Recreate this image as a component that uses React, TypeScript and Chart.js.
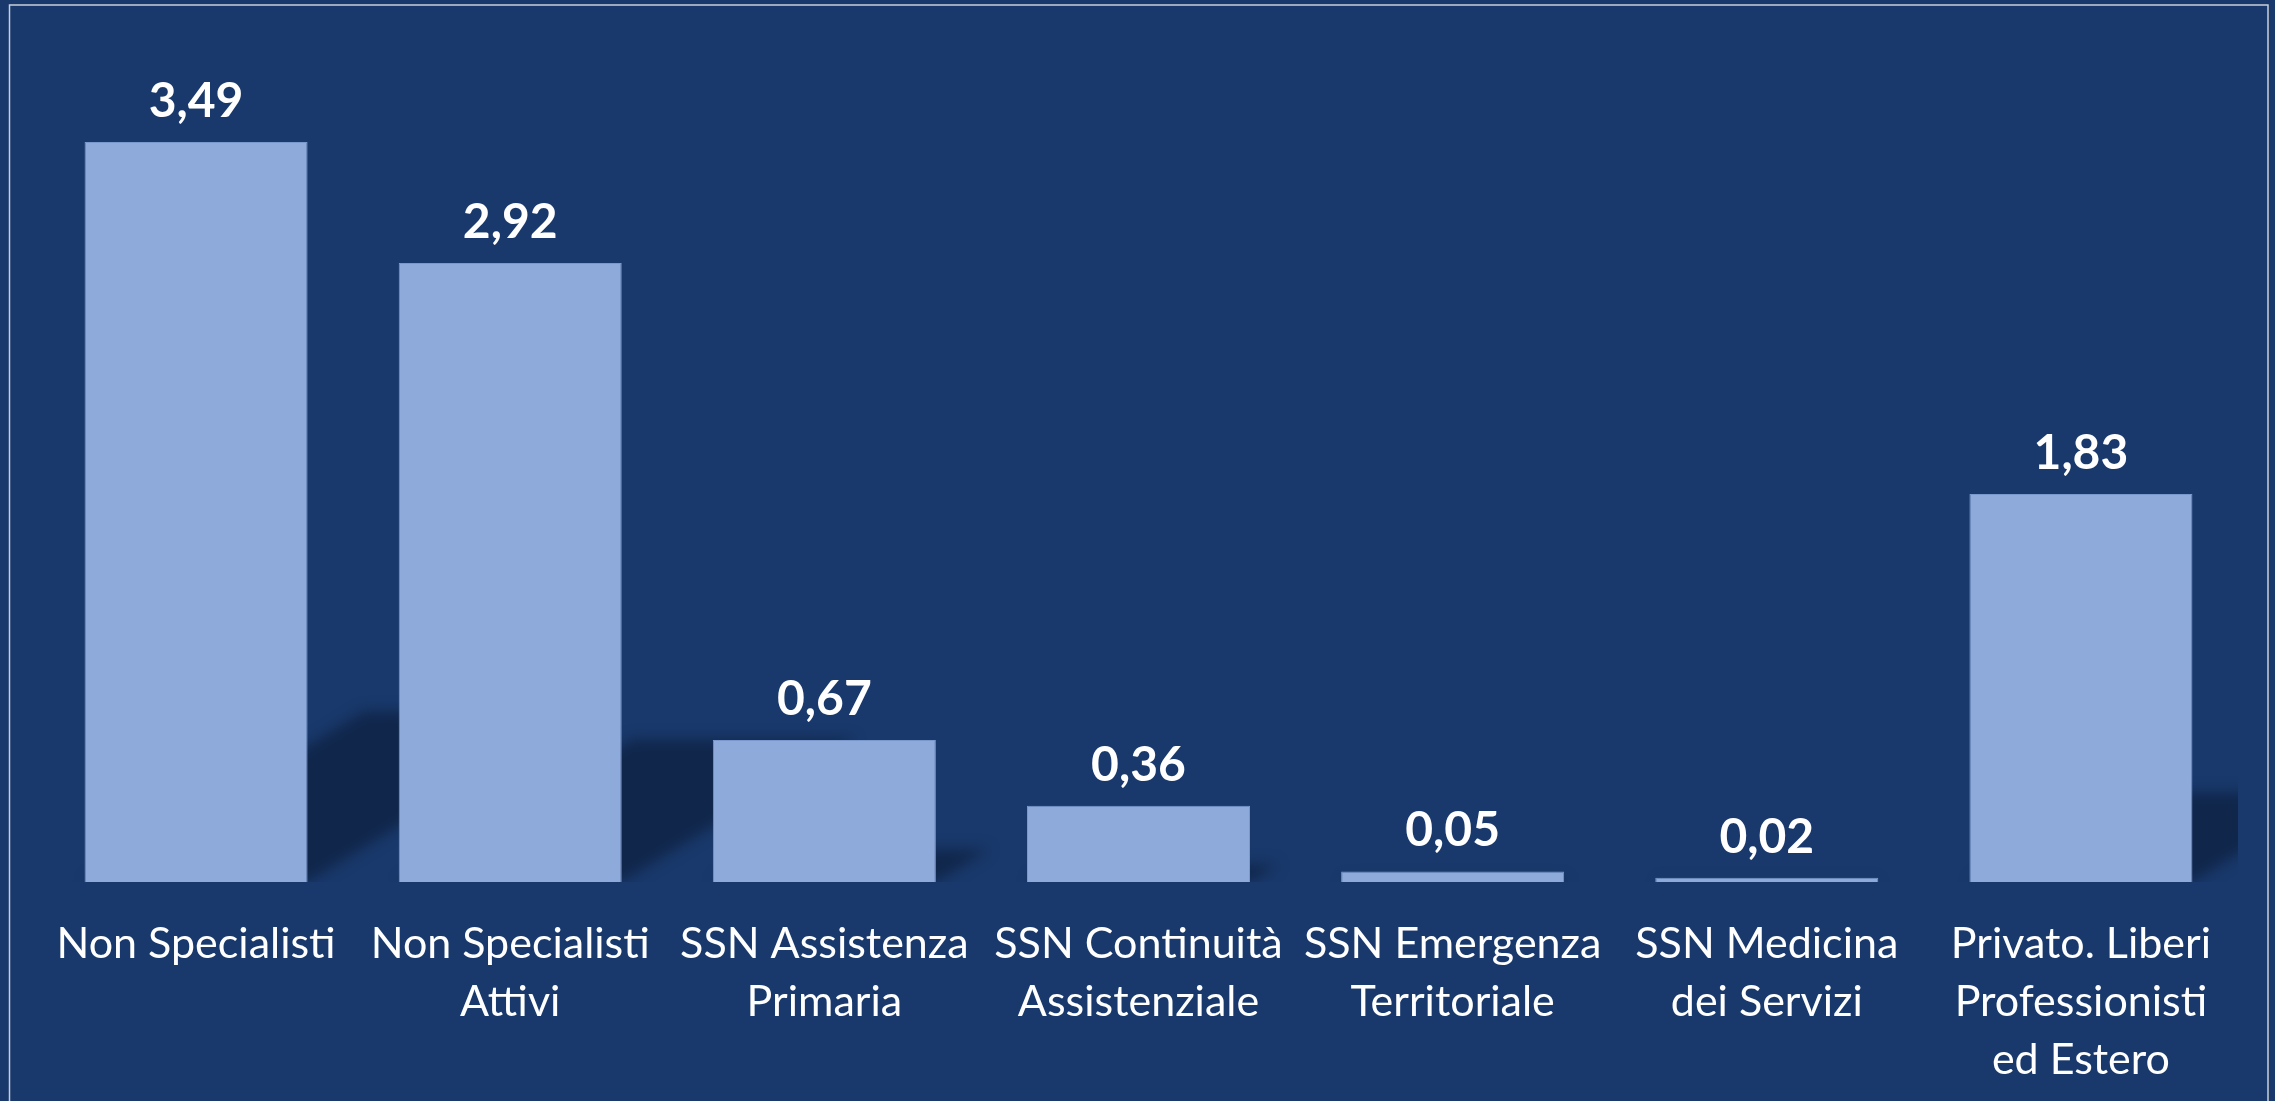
import React, { useEffect, useRef } from "react";
import { Chart, registerables } from "chart.js";

Chart.register(...registerables);

const categories: (string | string[])[] = [
  "Non Specialisti",
  ["Non Specialisti", "Attivi"],
  ["SSN Assistenza", "Primaria"],
  ["SSN Continuità", "Assistenziale"],
  ["SSN Emergenza", "Territoriale"],
  ["SSN Medicina", "dei Servizi"],
  ["Privato. Liberi", "Professionisti", "ed Estero"],
];

const values: number[] = [3.49, 2.92, 0.67, 0.36, 0.05, 0.02, 1.83];

const BG = "#19396c";
const BAR = "#8eaadb";
const BAR_BORDER = "#7a98cc";

const bgPlugin = {
  id: "bgPlugin",
  beforeDraw(chart: any) {
    const { ctx, width, height } = chart;
    ctx.save();
    ctx.fillStyle = BG;
    ctx.fillRect(0, 0, width, height);
    ctx.strokeStyle = "#c9ced8";
    ctx.lineWidth = 1.5;
    ctx.beginPath();
    ctx.moveTo(9.5, height + 2);
    ctx.lineTo(9.5, 5);
    ctx.lineTo(2268, 5);
    ctx.lineTo(2268, height + 2);
    ctx.stroke();
    ctx.restore();
  },
};

const shadowPlugin = {
  id: "shadowPlugin",
  beforeDatasetsDraw(chart: any) {
    const { ctx, chartArea } = chart;
    const meta = chart.getDatasetMeta(0);
    ctx.save();
    ctx.beginPath();
    ctx.rect(chartArea.left, chartArea.top, chartArea.right - chartArea.left, chartArea.bottom - chartArea.top);
    ctx.clip();
    ctx.filter = "blur(7px)";
    ctx.fillStyle = "rgba(12, 28, 55, 0.62)";
    meta.data.forEach((bar: any) => {
      const h = bar.base - bar.y;
      if (h <= 1) return;
      const x0 = bar.x - bar.width / 2;
      const x1 = bar.x + bar.width / 2;
      const dy = 0.231 * h;
      const dx = 0.378 * h;
      ctx.beginPath();
      ctx.moveTo(x0, bar.base);
      ctx.lineTo(x1, bar.base);
      ctx.lineTo(x1 + dx, bar.base - dy);
      ctx.lineTo(x0 + dx, bar.base - dy);
      ctx.closePath();
      ctx.fill();
    });
    ctx.restore();
  },
};

const valueLabelPlugin = {
  id: "valueLabelPlugin",
  afterDatasetsDraw(chart: any) {
    const { ctx } = chart;
    const meta = chart.getDatasetMeta(0);
    const data = chart.data.datasets[0].data as number[];
    ctx.save();
    ctx.fillStyle = "#ffffff";
    ctx.font = "bold 48px Lato";
    ctx.textAlign = "center";
    ctx.textBaseline = "alphabetic";
    meta.data.forEach((bar: any, i: number) => {
      const txt = data[i].toFixed(2).replace(".", ",");
      ctx.fillText(txt, bar.x, bar.y - 25);
    });
    ctx.restore();
  },
};

export default function App() {
  const canvasRef = useRef<HTMLCanvasElement | null>(null);

  useEffect(() => {
    const canvas = canvasRef.current;
    if (!canvas) return;
    const chart = new Chart(canvas, {
      type: "bar",
      data: {
        labels: categories,
        datasets: [
          {
            data: values,
            backgroundColor: BAR,
            borderColor: BAR_BORDER,
            borderWidth: 1,
            categoryPercentage: 1,
            barPercentage: 0.71,
          },
        ],
      },
      options: {
        responsive: false,
        animation: false,
        devicePixelRatio: 1,
        layout: { padding: { left: 39, right: 37, top: 34, bottom: 0 } },
        plugins: {
          legend: { display: false },
          tooltip: { enabled: false },
        },
        scales: {
          x: {
            grid: { display: false, drawTicks: false },
            border: { display: false },
            ticks: {
              color: "#ffffff",
              font: { family: "Lato", size: 43, lineHeight: 1.35 },
              padding: 33,
              maxRotation: 0,
              minRotation: 0,
              autoSkip: false,
            },
            afterFit: (scale: any) => {
              scale.height = 219;
            },
          },
          y: {
            display: false,
            min: 0,
            max: 4,
          },
        },
      },
      plugins: [bgPlugin, shadowPlugin, valueLabelPlugin],
    });
    return () => chart.destroy();
  }, []);

  return (
    <div style={{ position: "absolute", left: 0, top: 0, width: 2275, height: 1101, overflow: "hidden", background: BG }}>
      <canvas ref={canvasRef} width={2275} height={1101} style={{ display: "block" }} />
    </div>
  );
}
